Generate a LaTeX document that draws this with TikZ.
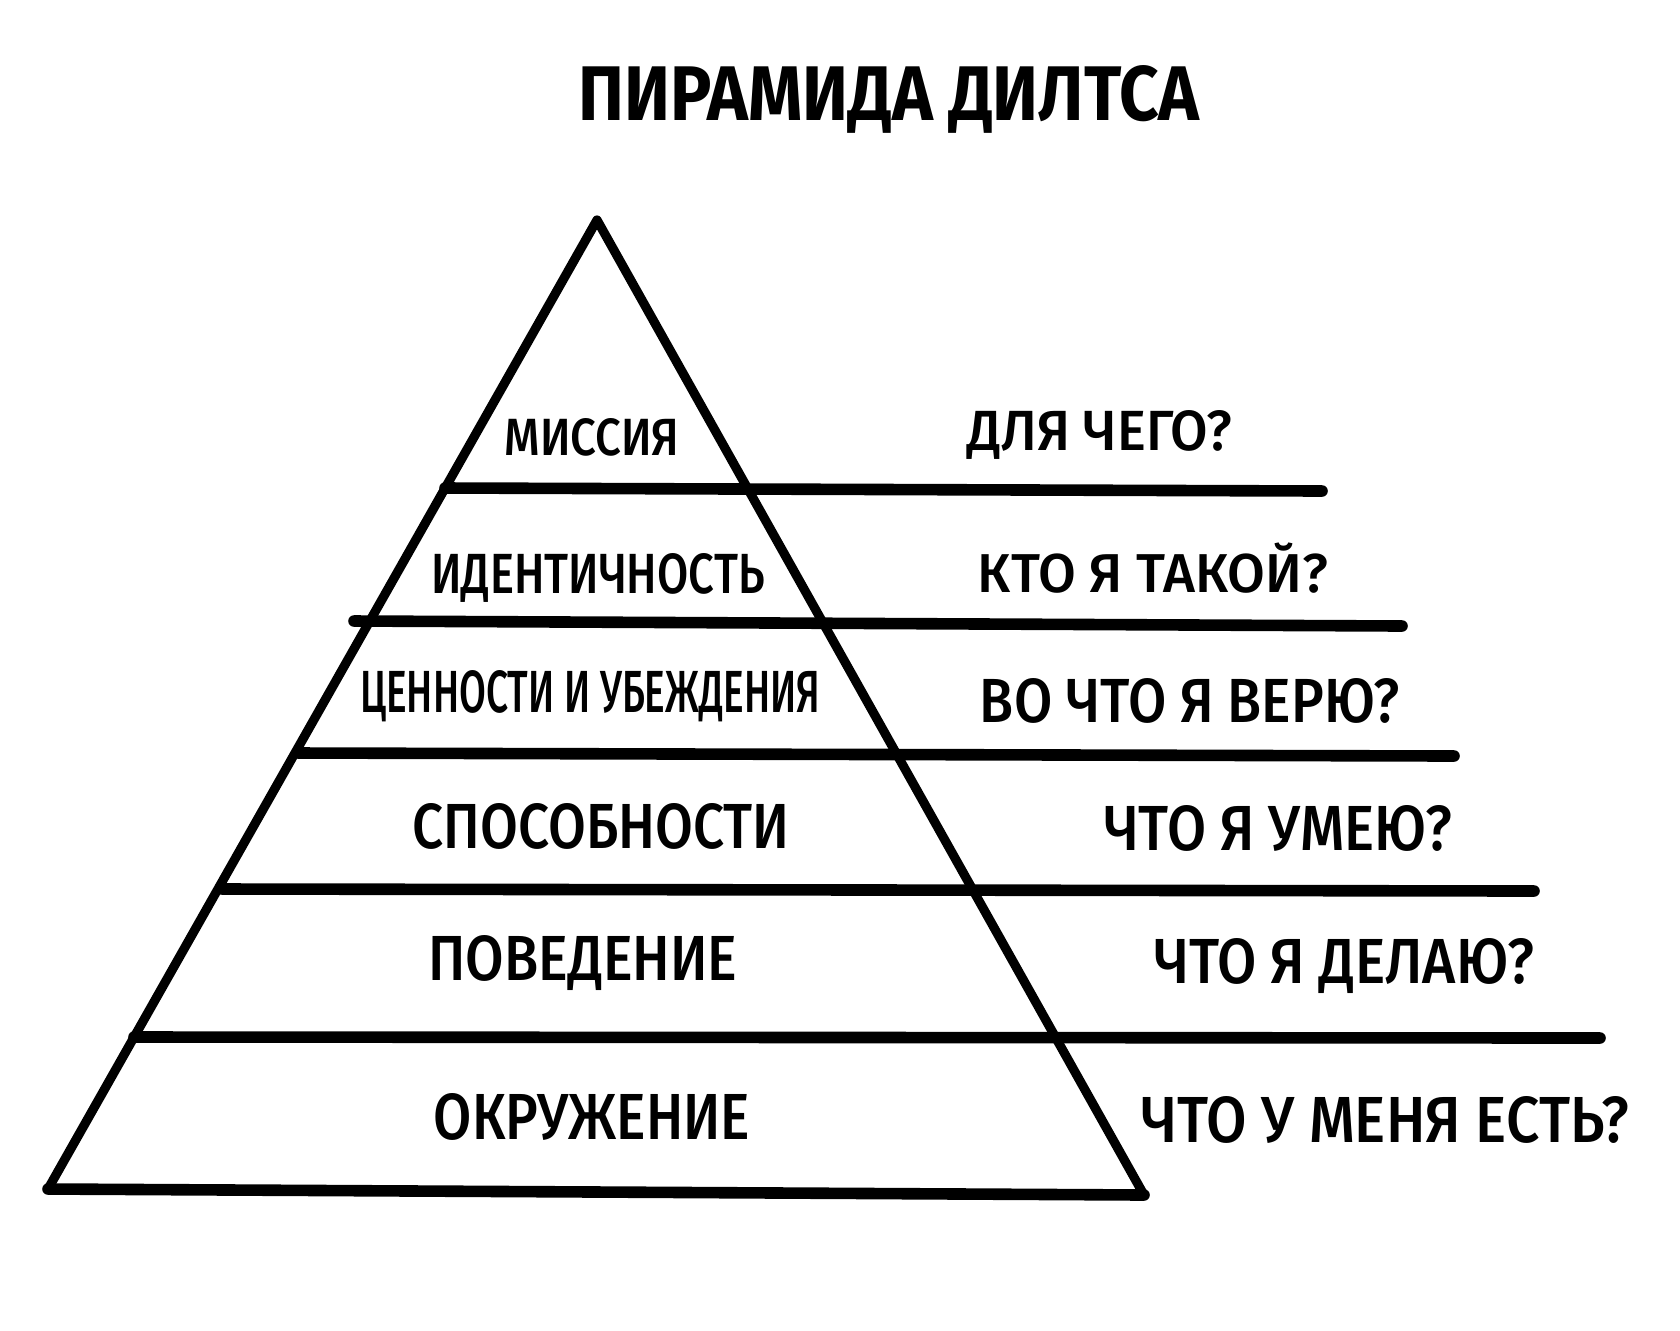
\documentclass[tikz,border=0pt]{standalone}
\usepackage{fontspec}
\usepackage{graphicx}
\newfontfamily\hw{Fira Sans}
\IfFontExistsTF{Fira Sans Medium}{\newfontfamily\hwl{Fira Sans Medium}}{\newfontfamily\hwl{Fira Sans}}
\usetikzlibrary{calc}
\newdimen\pxu \pxu=0.5pt
\newcommand\fit[3]{\resizebox{#1\pxu}{#2\pxu}{\hwl #3}}
\newcommand\fitw[2]{\resizebox{#1\pxu}{!}{\hwl #2}}
\newcommand\fitt[3]{\resizebox{#1\pxu}{#2\pxu}{\hw\bfseries #3}}
\tikzset{
  tier/.style={line width=5.8pt, line cap=round, line join=round, black},
  lbl/.style={inner sep=0pt, anchor=base, text=black}
}
\begin{document}
\begin{tikzpicture}[x=0.5pt,y=-0.5pt]
\useasboundingbox[fill=white] (0,0) rectangle (1680,1330);
% pyramid corners
\coordinate (A) at (597,220);
\coordinate (BL) at (48,1189);
\coordinate (BR) at (1144,1195);
\draw[tier, line width=4.6pt] (BL) -- (A) -- (BR) -- cycle;
% tier line ends
\coordinate (l1a) at (445,488);  \coordinate (l1b) at (1322,491);
\coordinate (l2a) at (354,621);  \coordinate (l2b) at (1402,626);
\coordinate (l3a) at (298,753);  \coordinate (l3b) at (1454,756);
\coordinate (l4a) at (222,889);  \coordinate (l4b) at (1534,891);
\coordinate (l5a) at (134,1037); \coordinate (l5b) at (1600,1038);
\draw[tier] (l1a) -- (l1b);
\draw[tier] (l2a) -- (l2b);
\draw[tier] (l3a) -- (l3b);
\draw[tier] (l4a) -- (l4b);
\draw[tier] (l5a) -- (l5b);
\draw[tier] (BL) -- (BR);
% title
\node[lbl] (title) at (889,120) {\fitt{621}{55}{ПИРАМИДА ДИЛТСА}};
% levels
\node[lbl] (m1) at (592,455) {\fit{175}{37}{МИССИЯ}};
\node[lbl] (m2) at (598,593) {\fit{333}{40}{ИДЕНТИЧНОСТЬ}};
\node[lbl] (m3) at (590,712) {\fit{460}{42}{ЦЕННОСТИ И УБЕЖДЕНИЯ}};
\node[lbl] (m4) at (601,848) {\fit{377}{45}{СПОСОБНОСТИ}};
\node[lbl] (m5) at (583,980) {\fit{309}{45}{ПОВЕДЕНИЕ}};
\node[lbl] (m6) at (592,1139) {\fit{316}{46}{ОКРУЖЕНИЕ}};
% questions
\node[lbl] (q1) at (1100,450) {\fit{265}{40}{ДЛЯ ЧЕГО?}};
\node[lbl] (q2) at (1153,592) {\fitw{350}{КТО Я ТАКОЙ?}};
\node[lbl] (q3) at (1190,722) {\fit{420}{44}{ВО ЧТО Я ВЕРЮ?}};
\node[lbl] (q4) at (1278,850) {\fit{348}{45}{ЧТО Я УМЕЮ?}};
\node[lbl] (q5) at (1344,983) {\fit{380}{45}{ЧТО Я ДЕЛАЮ?}};
\node[lbl] (q6) at (1385,1142) {\fit{488}{46}{ЧТО У МЕНЯ ЕСТЬ?}};
\end{tikzpicture}
\end{document}
